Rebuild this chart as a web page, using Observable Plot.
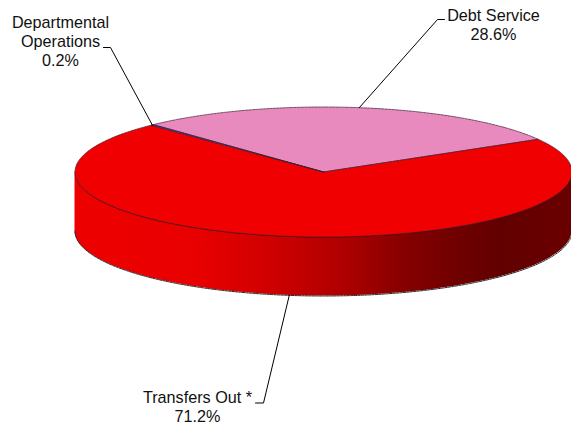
<!DOCTYPE html>
<html>
<head>
<meta charset="utf-8">
<style>html,body{margin:0;padding:0;background:#fff}svg{display:block}</style>
<script src="https://cdn.jsdelivr.net/npm/d3@7"></script>
<script src="https://cdn.jsdelivr.net/npm/@observablehq/plot@0.6"></script>
</head>
<body>
<div id="chart"></div>
<script>
// Data
const categories = ["Debt Service", "Transfers Out *", "Departmental Operations"];
const shares = [28.6, 71.2, 0.2];
const shareLabels = ["28.6%", "71.2%", "0.2%"];
const topColors = ["#e98abf", "#f00000", "#6a2fb0"];

// Pie geometry (pixels in the x/y domains)
const W = 571, H = 425;
const cx = 323, cy = 171.5, rx = 248.5, ry = 65, depth = 59;
const startDeg = -43.2;
const rad = d => d * Math.PI / 180;
const px = a => cx + rx * Math.sin(rad(a));
const py = a => cy - ry * Math.cos(rad(a));
const steps = (a, b) => d3.range(0, 121).map(i => a + (b - a) * i / 120);

let acc = startDeg;
const slices = shares.map((s, i) => {
  const a0 = acc, a1 = acc + s * 3.6;
  acc = a1;
  return {name: categories[i], a0, a1, mid: (a0 + a1) / 2, color: topColors[i]};
});
const wedge = s => [[cx, cy], ...steps(s.a0, s.a1).map(a => [px(a), py(a)]), [cx, cy]];
const front = steps(90, 270).map(a => ({x: px(a), y1: py(a), y2: py(a) + depth}));

// Label layout
const labels = [
  {lines: ["Debt Service", shareLabels[0]], x: 493, y: 15, elbow: [[444, 19], [437, 19]], i: 0, drop: 0},
  {lines: ["Transfers Out *", shareLabels[1]], x: 197, y: 397, elbow: [[255, 402.5], [263, 402.5]], i: 1, drop: depth},
  {lines: ["Departmental", "Operations", shareLabels[2]], x: 60, y: 22.5, elbow: [[103, 47], [110, 47]], i: 2, drop: 0}
];
const textRows = labels.flatMap(l => l.lines.map((t, k) => ({t, x: l.x, y: l.y + k * 19})));
const leaders = labels.map(l => [...l.elbow, [px(slices[l.i].mid), py(slices[l.i].mid) + l.drop]]);

const gradStops = [[0, "#ee0000"], [0.25, "#e80000"], [0.39, "#d00000"], [0.535, "#b00000"], [0.656, "#880000"], [0.777, "#6e0000"], [0.857, "#620000"], [1, "#6a0000"]];
const gradient = () => {
  const defs = d3.create("svg:defs");
  const g = defs.append("linearGradient").attr("id", "sideGrad");
  gradStops.forEach(([o, c]) => g.append("stop").attr("offset", o).attr("stop-color", c));
  return defs.node();
};

const chart = Plot.plot({
  width: W, height: H,
  margin: 0,
  x: {domain: [0, W], range: [0, W], axis: null},
  y: {domain: [0, H], range: [0, H], axis: null},
  style: {background: "#fff", fontFamily: "'Liberation Sans', Arial, sans-serif"},
  marks: [
    gradient,
    Plot.area(front, {x1: "x", y1: "y1", y2: "y2", fill: "url(#sideGrad)"}),
    Plot.line(front, {x: "x", y: "y2", stroke: "#2a2a2a", strokeWidth: 1, strokeDasharray: "2.5,1"}),
    Plot.line(front, {x: "x", y: "y1", stroke: "#400000", strokeWidth: 0.8}),
    ...slices.map(s => Plot.line(wedge(s), {
      x: d => d[0], y: d => d[1],
      fill: s.color, stroke: "#3a2030", strokeWidth: 0.7, strokeDasharray: "2.5,1", curve: "linear"
    })),
    ...leaders.map(l => Plot.line(l, {x: d => d[0], y: d => d[1], stroke: "#000", strokeWidth: 1})),
    Plot.text(textRows, {x: "x", y: "y", text: "t", fontSize: 16.2, fill: "#111", textAnchor: "middle"})
  ]
});
document.getElementById("chart").append(chart);
</script>
</body>
</html>
